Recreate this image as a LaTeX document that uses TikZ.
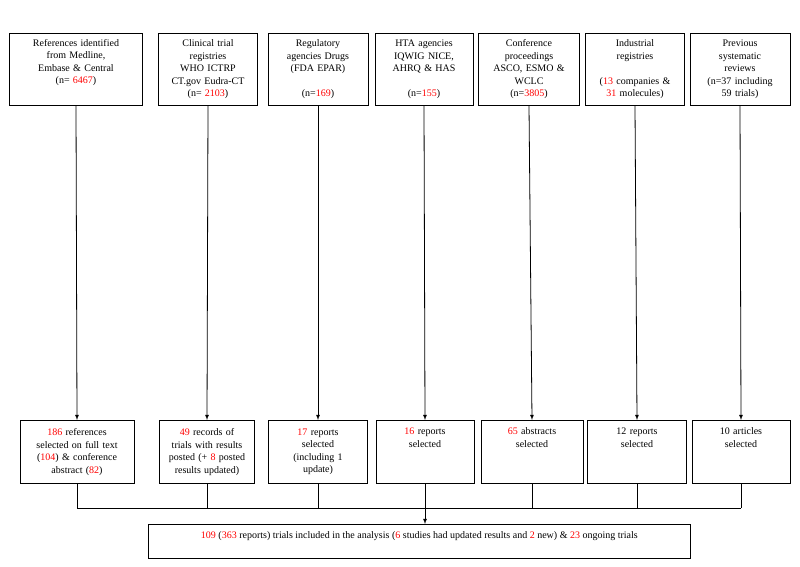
\documentclass[tikz,border=0pt]{standalone}
\usepackage{fontspec}
\setmainfont{Liberation Serif}
\usetikzlibrary{positioning}
\newcommand{\rd}[1]{\textcolor{red}{#1}}

\begin{document}
\begin{tikzpicture}[x=1pt,y=-1pt,font=\fontsize{10}{12.5}\selectfont,
	src/.style={draw,thick,align=center,anchor=north,minimum height=72pt,inner sep=1pt},
	sel/.style={draw,thick,align=center,anchor=north,minimum height=63pt,inner sep=1pt},
	flow/.style={thick,-latex}]
	\useasboundingbox (0,0) rectangle (800,566);
	% sources
	\node[src,text width=131pt] (s1) at (76,33) {References identified\\from Medline,\\Embase \& Central\\(n= \rd{6467})\\ \strut};
	\node[src,text width=97pt] (s2) at (208,33) {Clinical trial\\registries\\WHO ICTRP\\CT.gov Eudra-CT\\(n= \rd{2103})};
	\node[src,text width=98pt] (s3) at (318,33) {Regulatory\\agencies Drugs\\(FDA EPAR)\\ \strut\\(n=\rd{169})};
	\node[src,text width=96pt] (s4) at (424,33) {HTA agencies\\IQWIG NICE,\\AHRQ \& HAS\\ \strut\\(n=\rd{155})};
	\node[src,text width=99pt] (s5) at (529,33) {Conference\\proceedings\\ASCO, ESMO \&\\WCLC\\(n=\rd{3805})};
	\node[src,text width=97pt] (s6) at (635,33) {Industrial\\registries\\ \strut\\(\rd{13} companies \&\\\rd{31} molecules)};
	\node[src,text width=98pt] (s7) at (740,33) {Previous\\systematic\\reviews\\(n=37 including\\59 trials)};
	% selected
	\node[sel,text width=112pt] (r1) at (77,420) {\rd{186} references\\selected on full text\\(\rd{104}) \& conference\\abstract (\rd{82})};
	\node[sel,text width=93pt] (r2) at (207,420) {\rd{49} records of\\trials with results\\posted (+ \rd{8} posted\\results updated)};
	\node[sel,text width=97pt] (r3) at (318,420) {\rd{17} reports\\selected\\(including 1\\update)};
	\node[sel,text width=96pt] (r4) at (425,420) {\rd{16} reports\\selected\\ \strut\\ \strut};
	\node[sel,text width=100pt] (r5) at (532,420) {\rd{65} abstracts\\selected\\ \strut\\ \strut};
	\node[sel,text width=97pt] (r6) at (637,420) {12 reports\\selected\\ \strut\\ \strut};
	\node[sel,text width=96pt] (r7) at (741,420) {10 articles\\selected\\ \strut\\ \strut};
	% result
	\node[draw,thick,anchor=north west,minimum width=542pt,minimum height=34pt,text depth=12pt,inner xsep=8pt] (out) at (148,524)
		{\rd{109} (\rd{363} reports) trials included in the analysis (\rd{6} studies had updated results and \rd{2} new) \& \rd{23} ongoing trials};
	\foreach \i in {1,...,7} \draw[flow] (s\i.south) -- (r\i.north);
	\coordinate (bl) at (r1.south |- 0,508);
	\coordinate (br) at (r7.south |- 0,508);
	\draw[thick] (bl) -- (br);
	\foreach \i in {1,...,7} \draw[thick] (r\i.south) -- (r\i.south |- bl);
	\draw[flow] (r4.south |- bl) -- (r4.south |- out.north);
\end{tikzpicture}
\end{document}
